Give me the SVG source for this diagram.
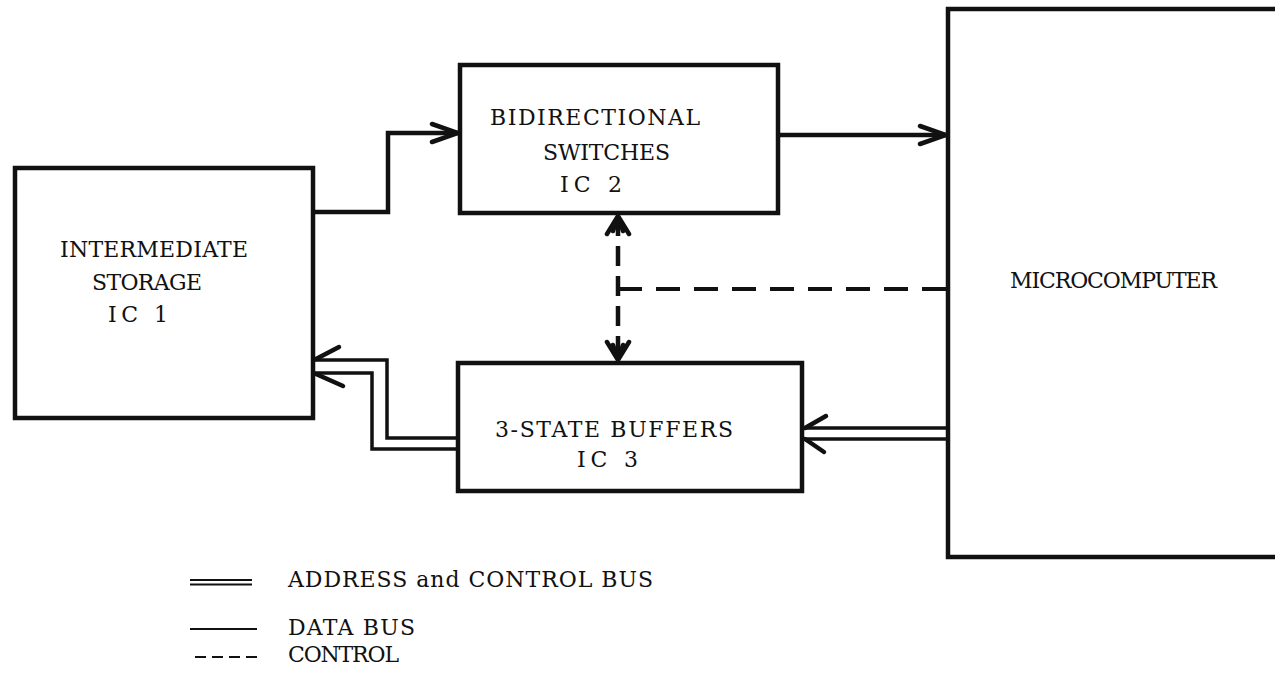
<svg xmlns="http://www.w3.org/2000/svg" width="1275" height="673" viewBox="0 0 1275 673">
<defs>
<style>
.box{fill:none;stroke:#111;stroke-width:4.5}
.data{fill:none;stroke:#111;stroke-width:4.5;stroke-linejoin:miter}
.bus{fill:none;stroke:#111;stroke-width:3.5;stroke-linejoin:miter}
.ctl{fill:none;stroke:#111;stroke-width:4.5;stroke-dasharray:20 10}
.ctlh{fill:none;stroke:#111;stroke-width:4;stroke-dasharray:24 14}
.barb{fill:none;stroke:#111;stroke-width:4.5;stroke-linecap:round}
.head{fill:none;stroke:#111;stroke-width:4.5;stroke-linecap:round;stroke-dasharray:none}
.t{font-family:"DejaVu Serif","Liberation Serif",serif;font-size:22px;fill:#111}
.lgl{fill:none;stroke:#111;stroke-width:2}
</style>
<marker id="arr" markerUnits="userSpaceOnUse" markerWidth="32" markerHeight="26" refX="29" refY="13" orient="auto">
<path class="head" d="M3,4 L29,13 L3,22"/>
</marker>
<marker id="carr" markerUnits="userSpaceOnUse" markerWidth="24" markerHeight="28" refX="21" refY="14" orient="auto-start-reverse">
<path class="head" d="M3,3 L21,14 L3,25 M6,9 L21,14 L6,19"/>
</marker>
</defs>
<rect width="1275" height="673" fill="#fff"/>

<g id="ic1">
<rect class="box" x="15" y="168" width="298" height="250"/>
<text class="t" x="60" y="257" textLength="188" lengthAdjust="spacing">INTERMEDIATE</text>
<text class="t" x="92" y="290" textLength="110" lengthAdjust="spacing">STORAGE</text>
<text class="t" x="108" y="322" textLength="60" lengthAdjust="spacing">IC 1</text>
</g>

<g id="ic2">
<rect class="box" x="460" y="65" width="318" height="148"/>
<text class="t" x="490" y="125" textLength="210" lengthAdjust="spacing">BIDIRECTIONAL</text>
<text class="t" x="543" y="160" textLength="127" lengthAdjust="spacing">SWITCHES</text>
<text class="t" x="560" y="192" textLength="62" lengthAdjust="spacing">IC 2</text>
</g>

<g id="ic3">
<rect class="box" x="458" y="363" width="344" height="128"/>
<text class="t" x="495" y="437" textLength="238" lengthAdjust="spacing">3-STATE BUFFERS</text>
<text class="t" x="577" y="467" textLength="61" lengthAdjust="spacing">IC 3</text>
</g>

<g id="microcomputer">
<rect class="box" x="948" y="9" width="340" height="548"/>
<text class="t" x="1010" y="288" textLength="207" lengthAdjust="spacing">MICROCOMPUTER</text>
</g>

<g id="connectors">
<path class="data" d="M313,212 H388 V133 H458" marker-end="url(#arr)"/>
<path class="data" d="M778,135 H946" marker-end="url(#arr)"/>
<path class="ctl" d="M618,216 V360" marker-start="url(#carr)" marker-end="url(#carr)"/>
<path class="ctlh" d="M946,289 H618"/>
<path class="bus" d="M946,428 H804"/>
<path class="bus" d="M946,439 H804"/>
<path class="barb" d="M805,428 L826,416"/>
<path class="barb" d="M805,439 L824,452"/>
<path class="bus" d="M458,438 H387 V360 H315"/>
<path class="bus" d="M458,449 H372 V373 H315"/>
<path class="barb" d="M316,359 L339,347"/>
<path class="barb" d="M316,374 L343,386"/>
</g>

<g id="legend">
<line class="lgl" x1="190" y1="580" x2="252" y2="580"/>
<line class="lgl" x1="190" y1="584.5" x2="252" y2="584.5"/>
<text class="t" x="288" y="587" textLength="365" lengthAdjust="spacing">ADDRESS and CONTROL BUS</text>
<line class="lgl" x1="190" y1="629" x2="257" y2="629"/>
<text class="t" x="288" y="635" textLength="127" lengthAdjust="spacing">DATA BUS</text>
<line class="lgl" x1="195" y1="657" x2="257" y2="657" stroke-dasharray="11 6" stroke-width="2.5"/>
<text class="t" x="288" y="662" textLength="111" lengthAdjust="spacing">CONTROL</text>
</g>
</svg>
